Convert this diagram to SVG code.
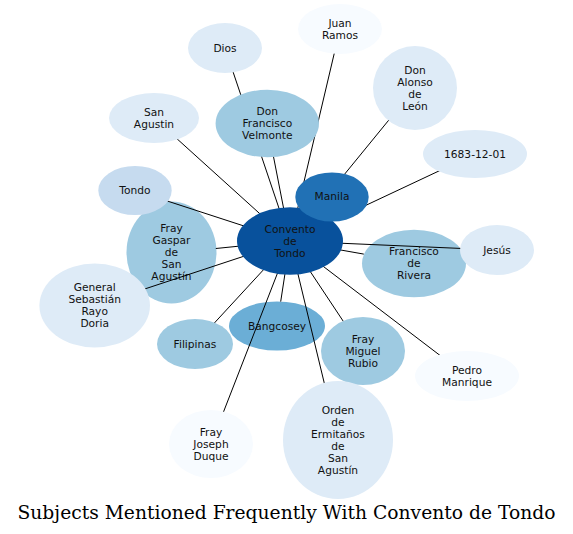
<svg xmlns="http://www.w3.org/2000/svg" width="573" height="534" viewBox="0 0 573 534">
<style>
.n text{font-family:"DejaVu Sans",Verdana,sans-serif;font-size:10.67px;fill:#111;text-anchor:middle}
#edges line{stroke:#000;stroke-width:1}
.c0{fill:#08519c}.c1{fill:#2171b5}.c2{fill:#6baed6}.c3{fill:#9ecae1}.c4{fill:#c6dbef}.c5{fill:#deebf7}.c6{fill:#f7fbff}
.title{font-family:"DejaVu Serif",serif;font-size:18.7px;fill:#000;text-anchor:middle}
</style>
<rect width="573" height="534" fill="#fff"/>
<g id="node-gaspar" class="n"><ellipse class="c3" cx="171.5" cy="252.5" rx="45" ry="51"/><text x="171.5" y="232.2">Fray<tspan x="171.5" dy="12">Gaspar</tspan><tspan x="171.5" dy="12">de</tspan><tspan x="171.5" dy="12">San</tspan><tspan x="171.5" dy="12">Agustín</tspan></text></g>
<g id="node-rivera" class="n"><ellipse class="c3" cx="414" cy="263.5" rx="52" ry="33.7"/><text x="414" y="255.2">Francisco<tspan x="414" dy="12">de</tspan><tspan x="414" dy="12">Rivera</tspan></text></g>
<g id="node-bangcosey" class="n"><ellipse class="c2" cx="277" cy="326" rx="48" ry="24.5"/><text x="277" y="329.7">Bangcosey</text></g>
<g id="edges">
<line x1="290" y1="241" x2="225" y2="48"/>
<line x1="290" y1="241" x2="267" y2="123.5"/>
<line x1="290" y1="241" x2="340" y2="29"/>
<line x1="290" y1="241" x2="415" y2="88"/>
<line x1="290" y1="241" x2="475" y2="154"/>
<line x1="290" y1="241" x2="154" y2="118"/>
<line x1="290" y1="241" x2="135" y2="190.5"/>
<line x1="290" y1="241" x2="215.8" y2="248.5"/>
<line x1="290" y1="241" x2="94.7" y2="305.5"/>
<line x1="290" y1="241" x2="195" y2="344"/>
<line x1="290" y1="241" x2="280.7" y2="301.6"/>
<line x1="290" y1="241" x2="211" y2="444"/>
<line x1="290" y1="241" x2="338" y2="440"/>
<line x1="290" y1="241" x2="363" y2="351"/>
<line x1="290" y1="241" x2="467" y2="376"/>
<line x1="290" y1="241" x2="363.8" y2="254.1"/>
<line x1="290" y1="241" x2="497" y2="250"/>
<line x1="290" y1="241" x2="332" y2="197"/>
</g>
<g id="node-dios" class="n"><ellipse class="c5" cx="225" cy="48" rx="37" ry="25"/><text x="225" y="51.7">Dios</text></g>
<g id="node-velmonte" class="n"><ellipse class="c3" cx="267.3" cy="123.5" rx="51.7" ry="33.7"/><text x="267.3" y="115.2">Don<tspan x="267.3" dy="12">Francisco</tspan><tspan x="267.3" dy="12">Velmonte</tspan></text></g>
<g id="node-juan-ramos" class="n"><ellipse class="c6" cx="340" cy="29" rx="42" ry="25"/><text x="340" y="26.7">Juan<tspan x="340" dy="12">Ramos</tspan></text></g>
<g id="node-alonso" class="n"><ellipse class="c5" cx="415" cy="88" rx="42" ry="42"/><text x="415" y="73.7">Don<tspan x="415" dy="12">Alonso</tspan><tspan x="415" dy="12">de</tspan><tspan x="415" dy="12">León</tspan></text></g>
<g id="node-date" class="n"><ellipse class="c5" cx="475" cy="154" rx="52" ry="24"/><text x="475" y="157.7">1683-12-01</text></g>
<g id="node-san-agustin" class="n"><ellipse class="c5" cx="154" cy="118" rx="45" ry="25"/><text x="154" y="115.7">San<tspan x="154" dy="12">Agustin</tspan></text></g>
<g id="node-tondo" class="n"><ellipse class="c4" cx="135" cy="190.5" rx="36.7" ry="24.5"/><text x="135" y="194.2">Tondo</text></g>
<g id="node-general" class="n"><ellipse class="c5" cx="94.7" cy="305.5" rx="55.3" ry="42"/><text x="94.7" y="291.2">General<tspan x="94.7" dy="12">Sebastián</tspan><tspan x="94.7" dy="12">Rayo</tspan><tspan x="94.7" dy="12">Doria</tspan></text></g>
<g id="node-filipinas" class="n"><ellipse class="c3" cx="195" cy="344" rx="38" ry="25"/><text x="195" y="347.7">Filipinas</text></g>
<g id="node-rubio" class="n"><ellipse class="c3" cx="363" cy="351" rx="42" ry="34"/><text x="363" y="342.7">Fray<tspan x="363" dy="12">Miguel</tspan><tspan x="363" dy="12">Rubio</tspan></text></g>
<g id="node-jesus" class="n"><ellipse class="c5" cx="497" cy="250" rx="37" ry="25"/><text x="497" y="253.7">Jesús</text></g>
<g id="node-manrique" class="n"><ellipse class="c6" cx="467" cy="376" rx="52" ry="25"/><text x="467" y="373.7">Pedro<tspan x="467" dy="12">Manrique</tspan></text></g>
<g id="node-duque" class="n"><ellipse class="c6" cx="211" cy="444" rx="42" ry="34"/><text x="211" y="435.7">Fray<tspan x="211" dy="12">Joseph</tspan><tspan x="211" dy="12">Duque</tspan></text></g>
<g id="node-orden" class="n"><ellipse class="c5" cx="338" cy="440" rx="55" ry="59"/><text x="338" y="413.7">Orden<tspan x="338" dy="12">de</tspan><tspan x="338" dy="12">Ermitaños</tspan><tspan x="338" dy="12">de</tspan><tspan x="338" dy="12">San</tspan><tspan x="338" dy="12">Agustín</tspan></text></g>
<g id="node-convento" class="n"><ellipse class="c0" cx="290" cy="241" rx="53" ry="33.7"/><text x="290" y="232.7">Convento<tspan x="290" dy="12">de</tspan><tspan x="290" dy="12">Tondo</tspan></text></g>
<g id="node-manila" class="n"><ellipse class="c1" cx="332" cy="197" rx="36.7" ry="24.5"/><text x="332" y="200">Manila</text></g>
<text class="title" x="286.5" y="519.3">Subjects Mentioned Frequently With Convento de Tondo</text>
</svg>
